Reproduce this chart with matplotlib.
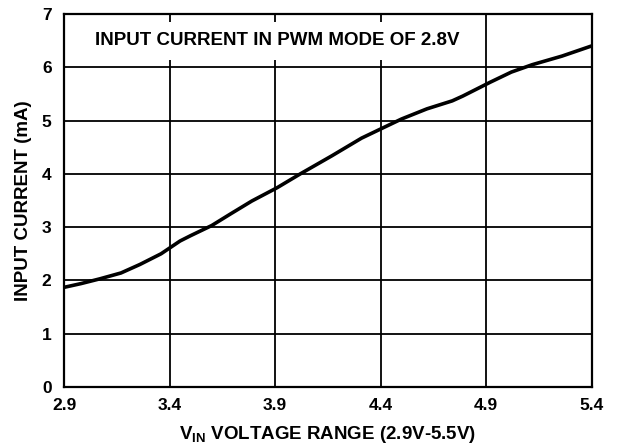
import matplotlib.pyplot as plt
from matplotlib.patches import Rectangle

plt.rcParams['font.family'] = ['Liberation Sans', 'DejaVu Sans']
plt.rcParams['font.weight'] = 'bold'
plt.rcParams['mathtext.fontset'] = 'custom'
plt.rcParams['mathtext.rm'] = 'Liberation Sans:bold'
plt.rcParams['mathtext.bf'] = 'Liberation Sans:bold'

# values
vin = [2.9, 2.98, 3.07, 3.17, 3.26, 3.36, 3.405, 3.45, 3.5, 3.6, 3.69, 3.79,
       3.91, 4.02, 4.17, 4.31, 4.41, 4.5, 4.62, 4.74, 4.79, 4.92, 5.02,
       5.12, 5.26, 5.4]
current = [1.87, 1.94, 2.03, 2.14, 2.30, 2.50, 2.62, 2.74, 2.84, 3.03, 3.25, 3.49,
           3.74, 4.0, 4.34, 4.67, 4.86, 5.03, 5.22, 5.37, 5.46, 5.72, 5.91,
           6.05, 6.21, 6.4]

xticks = [2.9, 3.4, 3.9, 4.4, 4.9, 5.4]
yticks = [0, 1, 2, 3, 4, 5, 6, 7]

fig = plt.figure(figsize=(6.19, 4.46), dpi=100)
ax = fig.add_axes([0.1034, 0.1323, 0.8522, 0.8363])

ax.set_axisbelow(True)
ax.grid(True, color='black', linewidth=1.3)
ax.plot(vin, current, color='black', linewidth=2.6, zorder=3,
        solid_joinstyle='round', solid_capstyle='butt')

# white title box that hides the grid behind it
ax.add_patch(Rectangle((2.9, 6.14), 1.9, 0.71, facecolor='white',
                       edgecolor='none', zorder=2))
ax.text(3.91, 6.51, 'INPUT CURRENT IN PWM MODE OF 2.8V', ha='center',
        va='center', fontsize=13.5, fontweight='bold', zorder=4)

ax.set_xlim(2.9, 5.4)
ax.set_ylim(0, 7)
ax.set_xticks(xticks)
ax.set_xticklabels([f'{t:.1f}' for t in xticks])
ax.set_yticks(yticks)
ax.tick_params(length=0, labelsize=12.5)
ax.tick_params(axis='x', pad=8)
ax.tick_params(axis='y', pad=9)
for lab in ax.get_xticklabels() + ax.get_yticklabels():
    lab.set_fontweight('bold')
for s in ax.spines.values():
    s.set_linewidth(1.6)
    s.set_zorder(5)

ax.set_xlabel(r'$\mathregular{V_{IN}}$ VOLTAGE RANGE (2.9V-5.5V)', fontsize=13.5,
              fontweight='bold', labelpad=8)
ax.set_ylabel('INPUT CURRENT (mA)', fontsize=13.5, fontweight='bold', labelpad=7)

fig.savefig('out.png', dpi=100)
